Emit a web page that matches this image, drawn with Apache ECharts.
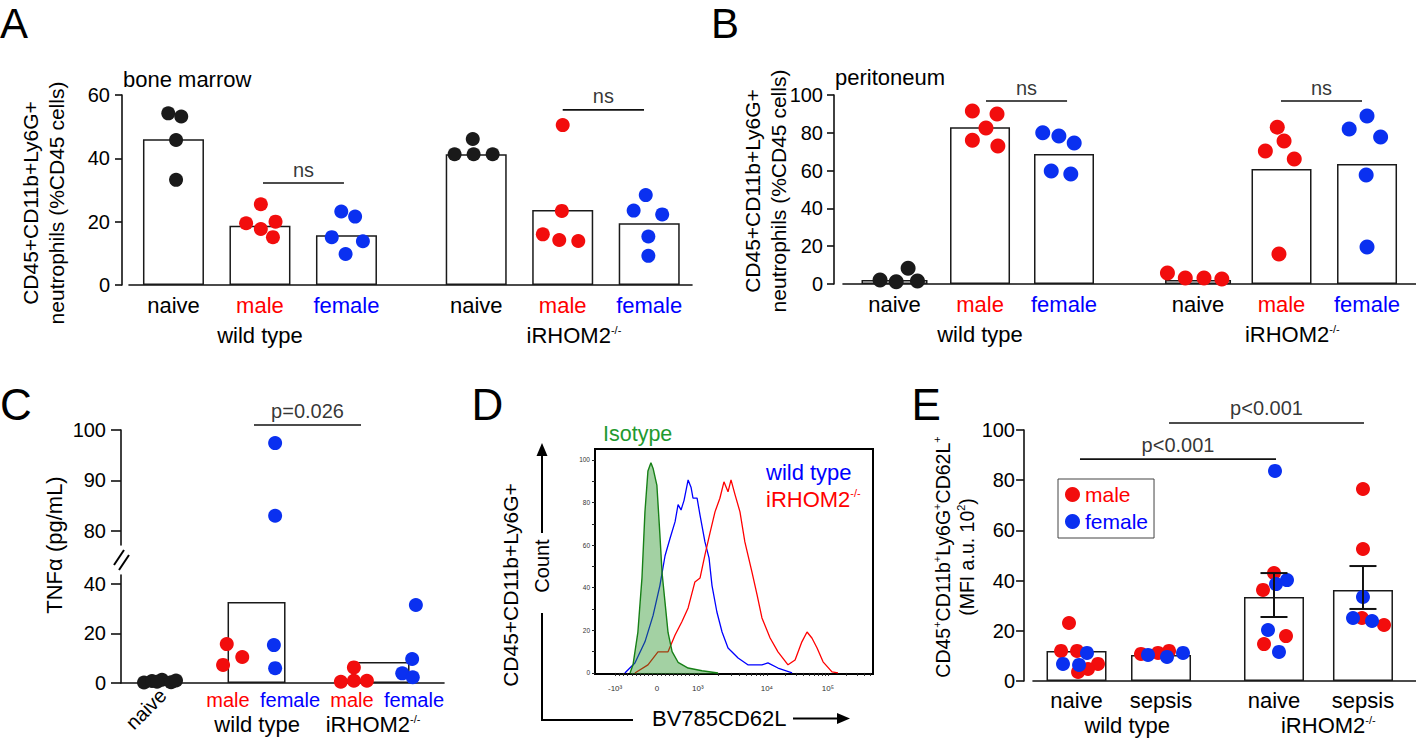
<!DOCTYPE html>
<html><head><meta charset="utf-8">
<script src="https://cdn.jsdelivr.net/npm/echarts@6/dist/echarts.min.js"></script>
<style>html,body{margin:0;padding:0;background:#fff}#c{width:1416px;height:742px}</style>
</head><body><div id="c"></div>
<script>
// ================= DATA =================
// Panel A – bone marrow (% CD45 cells)
const A_cats = ['naive', 'male', 'female', 'naive', 'male', 'female'];
const A_groups = ['wild type', 'iRHOM2'];
const A_barMeans = [46.0, 18.7, 15.7, 41.3, 23.7, 19.5];
const A_wtNaive = [54.2, 53.2, 45.8, 33.2];
const A_wtMale = [25.5, 19.5, 20.0, 17.7, 15.1];
const A_wtFemale = [23.2, 21.6, 15.1, 13.8, 9.8];
const A_koNaive = [41.3, 41.3, 41.3, 46.1];
const A_koMale = [50.5, 23.4, 16.0, 14.2, 13.9];
const A_koFemale = [28.4, 23.5, 22.3, 15.3, 9.2];
const A_yTicks = [0, 20, 40, 60];

// Panel B – peritoneum (% CD45 cells)
const B_cats = ['naive', 'male', 'female', 'naive', 'male', 'female'];
const B_groups = ['wild type', 'iRHOM2'];
const B_barMeans = [2.1, 83.0, 68.8, 2.1, 60.8, 63.5];
const B_wtNaive = [2.1, 1.2, 1.6, 8.3];
const B_wtMale = [91.5, 90.0, 82.5, 76.0, 73.0];
const B_wtFemale = [80.0, 78.3, 74.6, 59.8, 58.2];
const B_koNaive = [5.8, 3.2, 3.2, 2.6];
const B_koMale = [83.0, 75.7, 70.4, 66.1, 15.9];
const B_koFemale = [88.9, 82.0, 77.8, 57.7, 19.6];

// Panel C – TNFα (pg/mL)
const C_cats = ['male', 'female', 'male', 'female'];
const C_groups = ['wild type', 'iRHOM2'];
const C_barMeans = [32.7, 8.5];
const C_naive = [0.2, 0.8, 1.3, 0.3, 1.0, 0.5];
const C_wtMale = [15.7, 10.5, 7.3];
const C_wtFemale = [97.4, 83.0, 15.3, 6.0];
const C_koMale = [6.3, 0.5, 0.9, 0.9];
const C_koFemale = [31.5, 9.7, 3.9, 2.3];
const C_lowTicks = [0, 20, 40];
const C_highTicks = [80, 90, 100];

// Panel D – histogram (channel, % of max)
const D_isoX = [129, 140, 158, 173, 184, 195, 206, 214, 228, 239, 247, 258, 269, 284, 306, 343, 394, 453];
const D_isoY = [0, 3.8, 19.2, 44.6, 75.6, 94.8, 98.6, 96, 88, 65, 47, 33, 19, 10, 5, 2.3, 1, 0];
const D_wtX = [110, 147, 184, 214, 239, 258, 276, 295, 306, 317, 328, 343, 354, 361, 376, 387, 405, 420, 431, 449, 468, 490, 527, 563, 615, 637, 674, 726];
const D_wtY = [0, 4.7, 14.6, 27, 41, 55, 63, 71, 79, 76.5, 81, 90.6, 87, 82, 82, 74, 61.5, 54, 41, 28.6, 19.2, 11.7, 7, 3.8, 3.8, 4.7, 2.3, 0];
const D_koX = [147, 195, 232, 269, 295, 320, 343, 368, 387, 405, 424, 442, 460, 475, 490, 501, 516, 534, 552, 578, 597, 615, 645, 674, 711, 737, 762, 781, 799, 818, 840, 873, 895];
const D_koY = [0, 3.8, 9.9, 9.9, 17.8, 24, 30.5, 42.7, 44.6, 55.4, 66, 75.6, 82, 89.7, 85, 90.6, 83.6, 75.6, 61.5, 47.4, 36.6, 25.8, 16.4, 9.9, 3.8, 6.1, 14.6, 19.2, 16.4, 11.7, 5.2, 0.5, 0];
const D_xTickLabels = ['-10³', '0', '10³', '10⁴', '10⁵'];
const D_yTickLabels = [0, 20, 40, 60, 80, 100];

// Panel E – CD62L MFI (a.u. x10^2)
const E_cats = ['naive', 'sepsis', 'naive', 'sepsis'];
const E_groups = ['wild type', 'iRHOM2'];
const E_barMeans = [12.0, 10.4, 33.5, 36.3];
const E_errLow = [null, null, 25.5, 28.7];
const E_errHigh = [null, null, 43.0, 45.8];
const E_wtNaiveM = [23.1, 12.0, 12.0, 6.8, 4.8, 3.6];
const E_wtNaiveF = [11.2, 6.8, 6.4];
const E_wtSepsisM = [10.8, 11.2, 12.0];
const E_wtSepsisF = [10.4, 9.6, 11.2];
const E_koNaiveM = [43.0, 36.3, 17.9, 14.7];
const E_koNaiveF = [83.7, 38.6, 40.2, 20.3, 11.6];
const E_koSepsisM = [76.5, 52.6, 25.1, 22.3];
const E_koSepsisF = [33.5, 25.1, 23.9];

// ================= LAYOUT (slot positions, jitter, brackets) =================
const A_slots = [0, 1, 2, 3.5, 4.5, 5.5];
const A_groupPos = [1, 4.63];
const A_jit = [[-0.06, 0.09, 0.03, 0.03], [0.01, -0.16, 0.18, 0.01, 0.15], [-0.06, 0.1, -0.17, 0.19, -0.01],
               [-0.25, -0.03, 0.19, -0.04], [0.0, -0.01, -0.23, -0.04, 0.18], [-0.04, -0.18, 0.15, -0.01, -0.01]];
const A_brackets = [[1.035, 1.971, 32.2, 'ns'], [4.5, 5.44, 55.3, 'ns']];

const B_slots = [0, 1.006, 1.994, 3.571, 4.553, 5.559];
const B_groupPos = [1.006, 4.68];
const B_jit = [[-0.17, 0.02, 0.27, 0.16], [-0.09, 0.2, 0.07, -0.09, 0.21], [-0.25, -0.06, 0.12, -0.15, 0.08],
               [-0.36, -0.15, 0.07, 0.28], [-0.05, 0.03, -0.19, 0.15, -0.03], [0, -0.21, 0.16, -0.01, 0]];
const B_brackets = [[1.076, 2.03, 96.8, 'ns'], [4.547, 5.5, 96.8, 'ns']];

const C_slots = [0, 1, 2, 3];
const C_naiveSlot = -1.1;
const C_barSlots = [0.46, 2.46];
const C_groupPos = [0.47, 2.34];
const C_jit = [[-0.255, -0.126, 0.035, 0.181, 0.261, -0.045], [-0.02, 0.23, -0.08], [-0.24, -0.24, -0.26, -0.24],
               [0.03, -0.18, 0.03, 0.24], [0.03, -0.03, -0.19, -0.02]];
const C_bracket = [0.419, 2.145, 101.0, 'p=0.026'];

const D_xTickPos = [74, 228, 379, 633, 858];

const E_slots = [0, 1, 2.337, 3.39];
const E_groupPos = [0.6, 2.98];
const E_jit = [[-0.089, -0.183, 0.006, 0.254, 0.136, 0.018], [0.124, -0.16, 0.03],
               [-0.237, -0.036, 0.095], [-0.154, 0.071, 0.26],
               [0, -0.13, 0.142, -0.118], [0.012, 0.024, 0.154, -0.071, 0.059],
               [0, 0, -0.012, 0.249], [0, -0.118, 0.107]];
const E_brackets = [[0.041, 2.361, 88.4, 'p<0.001'], [1.095, 3.402, 102.8, 'p<0.001']];

// ================= STYLE =================
const FONT = '"Liberation Sans", Arial, Helvetica, sans-serif';
const RED = '#ff0000', BLUE = '#0000ff', GREEN = '#1f9a2f';
const DOT_RED = '#f20d0d', DOT_BLUE = '#0a30f0', DOT_BLACK = '#1a1a1a';
const AX = '#111';

function rich(size, lh) {
  return {
    k: { color: '#000', fontSize: size, fontFamily: FONT, lineHeight: lh },
    r: { color: RED, fontSize: size, fontFamily: FONT, lineHeight: lh },
    b: { color: BLUE, fontSize: size, fontFamily: FONT, lineHeight: lh },
    s: { color: '#000', fontSize: Math.round(size * 0.5), fontFamily: FONT, lineHeight: Math.round(size * 0.55), verticalAlign: 'top' }
  };
}
function colKey(name) { return name === 'male' ? 'r' : name === 'female' ? 'b' : 'k'; }
function catFmt(slots, names) {
  return function (v) {
    const i = slots.findIndex(s => Math.abs(s - v) < 1e-6);
    return i < 0 ? '' : '{' + colKey(names[i]) + '|' + names[i] + '}';
  };
}
function groupFmt(slots, names) {
  return function (v) {
    const i = slots.findIndex(s => Math.abs(s - v) < 1e-6);
    if (i < 0) return '';
    return names[i] === 'iRHOM2' ? '{k|iRHOM2}{s|-/-}' : '{k|' + names[i] + '}';
  };
}
function dots(slot, vals, jit) { return vals.map((v, i) => [slot + jit[i], v]); }

function yAx(grid, min, max, ticks, o) {
  return {
    gridIndex: grid, type: 'value', position: 'left', min: min, max: max, offset: o.offset || 0,
    axisLine: { show: true, onZero: false, lineStyle: { color: AX, width: 1.6 } },
    axisTick: { show: true, length: o.tick || 7, customValues: ticks, lineStyle: { color: AX, width: 1.6 } },
    axisLabel: { show: true, customValues: ticks, fontSize: 20, fontFamily: FONT, color: '#000', margin: o.margin || 12 },
    splitLine: { show: false }
  };
}
function xMain(grid, min, max, slots, names, margin, size) {
  return {
    gridIndex: grid, type: 'value', position: 'bottom', min: min, max: max,
    axisLine: { show: true, onZero: false, lineStyle: { color: AX, width: 1.6 } },
    axisTick: { show: false }, splitLine: { show: false },
    axisLabel: { show: true, customValues: slots, formatter: catFmt(slots, names), margin: margin, rich: rich(size, size) }
  };
}
function xGroup(grid, min, max, pos, names, margin) {
  return {
    gridIndex: grid, type: 'value', position: 'bottom', min: min, max: max,
    axisLine: { show: false }, axisTick: { show: false }, splitLine: { show: false },
    axisLabel: { show: true, customValues: pos, formatter: groupFmt(pos, names), margin: margin, rich: rich(22, 22) }
  };
}
function xHidden(grid, min, max) {
  return { gridIndex: grid, type: 'value', position: 'bottom', min: min, max: max, show: false, splitLine: { show: false } };
}
function bars(xi, yi, data, w) {
  return { type: 'bar', xAxisIndex: xi, yAxisIndex: yi, data: data, barWidth: w, silent: true, z: 2,
    itemStyle: { color: '#fff', borderColor: '#1a1a1a', borderWidth: 1.5 } };
}
function scat(name, xi, yi, data, color, size) {
  return { type: 'scatter', name: name, xAxisIndex: xi, yAxisIndex: yi, data: data, symbol: 'circle', symbolSize: size,
    itemStyle: { color: color, opacity: 1 }, silent: true, clip: false, z: 5 };
}
function bracket(xi, yi, b, dist) {
  return [
    { type: 'line', xAxisIndex: xi, yAxisIndex: yi, data: [[b[0], b[2]], [b[1], b[2]]], symbol: 'none', clip: false, silent: true, z: 6,
      lineStyle: { color: AX, width: 1.6 } },
    { type: 'scatter', xAxisIndex: xi, yAxisIndex: yi, data: [[(b[0] + b[1]) / 2, b[2]]], symbolSize: 1, clip: false, silent: true, z: 6,
      itemStyle: { color: 'rgba(0,0,0,0)' },
      label: { show: true, position: 'top', distance: dist, formatter: b[3], color: '#000', fontSize: 20, fontFamily: FONT } }
  ];
}

// axis ranges
const A_min = -0.514, A_max = A_min + 563 / 86.5;
const B_min = -0.606, B_max = B_min + 573 / 85;
const C_min = -1.726, C_max = C_min + 323 / 62;
const E_min = -0.515, E_max = E_min + 383 / 84.5;

// D minor ticks (biexponential style)
const D_minor = [];
for (let k = 1; k < 10; k++) { D_minor.push(228 - (228 - 74) * k / 10); D_minor.push(228 + (379 - 228) * k / 10); }
[[379, 633], [633, 858], [858, 1083]].forEach(([a, b]) => { for (let m = 2; m < 10; m++) { const p = a + (b - a) * Math.log10(m); if (p <= 1024) D_minor.push(p); } });
D_xTickPos.forEach(p => D_minor.push(p));

// ================= OPTION =================
const grid = [
  { left: 129, top: 95, width: 563, height: 190 },   // 0 A
  { left: 843, top: 95, width: 573, height: 189 },   // 1 B
  { left: 121, top: 430, width: 323, height: 115 },  // 2 C upper
  { left: 121, top: 575, width: 323, height: 108 },  // 3 C lower
  { left: 595, top: 449, width: 278, height: 225, show: true, borderColor: '#000', borderWidth: 2, backgroundColor: 'transparent' }, // 4 D
  { left: 1033, top: 430, width: 383, height: 251 }  // 5 E
];

const xAxis = [
  xMain(0, A_min, A_max, A_slots, A_cats, 9, 22),            // 0
  xGroup(0, A_min, A_max, A_groupPos, A_groups, 39),          // 1
  xMain(1, B_min, B_max, B_slots, B_cats, 9, 22),            // 2
  xGroup(1, B_min, B_max, B_groupPos, B_groups, 39),          // 3
  xHidden(1, B_min, B_max),                                   // 4 (naive bars)
  xHidden(2, C_min, C_max),                                   // 5 C upper
  xMain(3, C_min, C_max, C_slots, C_cats, 7, 20),            // 6 C lower
  xGroup(3, C_min, C_max, C_groupPos, C_groups, 30),          // 7
  { gridIndex: 3, type: 'value', position: 'bottom', min: C_min, max: C_max, axisLine: { show: false }, axisTick: { show: false }, splitLine: { show: false },
    axisLabel: { show: true, customValues: [C_naiveSlot + 0.05], formatter: () => 'naive', rotate: 45, margin: 9, fontSize: 20, fontFamily: FONT, color: '#000' } }, // 8
  { gridIndex: 4, type: 'value', position: 'bottom', min: 0, max: 1024, axisLine: { show: false }, splitLine: { show: false },
    axisTick: { show: true, customValues: D_minor, length: 3, lineStyle: { color: '#222', width: 1 } },
    axisLabel: { show: true, customValues: D_xTickPos, formatter: v => D_xTickLabels[D_xTickPos.findIndex(p => Math.abs(p - v) < 1e-6)] || '', fontSize: 8, fontFamily: FONT, color: '#333', margin: 10 } }, // 9
  xMain(5, E_min, E_max, E_slots, E_cats, 8, 22),            // 10
  xGroup(5, E_min, E_max, E_groupPos, E_groups, 33)           // 11
];

const yAxis = [
  yAx(0, 0, 60, A_yTicks, { offset: 7, margin: 12 }),
  yAx(1, 0, 100, [0, 20, 40, 60, 80, 100], { offset: 9, margin: 11 }),
  yAx(2, 77.2, 100, C_highTicks, { tick: 10, margin: 15 }),
  yAx(3, 0, 43.6, C_lowTicks, { tick: 10, margin: 15 }),
  { gridIndex: 4, type: 'value', position: 'left', min: -0.5, max: 105.1, splitLine: { show: false }, axisLine: { show: false },
    axisTick: { show: true, customValues: [0, 10, 20, 30, 40, 50, 60, 70, 80, 90, 100], length: 3, lineStyle: { color: '#222', width: 1 } },
    axisLabel: { show: true, customValues: D_yTickLabels, fontSize: 6.5, fontFamily: FONT, color: '#333', margin: 5 } },
  yAx(5, 0, 100, [0, 20, 40, 60, 80, 100], { offset: 9, margin: 9, tick: 8 })
];

const series = [];
// ---- A
series.push(bars(0, 0, A_slots.map((s, i) => [s, A_barMeans[i]]), 61));
series.push(scat('A naive', 0, 0, dots(A_slots[0], A_wtNaive, A_jit[0]).concat(dots(A_slots[3], A_koNaive, A_jit[3])), DOT_BLACK, 14));
series.push(scat('A male', 0, 0, dots(A_slots[1], A_wtMale, A_jit[1]).concat(dots(A_slots[4], A_koMale, A_jit[4])), DOT_RED, 14));
series.push(scat('A female', 0, 0, dots(A_slots[2], A_wtFemale, A_jit[2]).concat(dots(A_slots[5], A_koFemale, A_jit[5])), DOT_BLUE, 14));
A_brackets.forEach(b => series.push(...bracket(0, 0, b, 3)));
// ---- B
series.push(bars(2, 1, [1, 2, 4, 5].map(i => [B_slots[i], B_barMeans[i]]), 60));
series.push(bars(4, 1, [0, 3].map(i => [B_slots[i], B_barMeans[i]]), 66));
series.push(scat('B naive wt', 2, 1, dots(B_slots[0], B_wtNaive, B_jit[0]), DOT_BLACK, 15));
series.push(scat('B male', 2, 1, dots(B_slots[1], B_wtMale, B_jit[1]).concat(dots(B_slots[3], B_koNaive, B_jit[3]), dots(B_slots[4], B_koMale, B_jit[4])), DOT_RED, 15));
series.push(scat('B female', 2, 1, dots(B_slots[2], B_wtFemale, B_jit[2]).concat(dots(B_slots[5], B_koFemale, B_jit[5])), DOT_BLUE, 15));
B_brackets.forEach(b => series.push(...bracket(2, 1, b, 3)));
// ---- C
series.push(bars(6, 3, C_barSlots.map((s, i) => [s, C_barMeans[i]]), 58));
const C_red = dots(C_slots[0], C_wtMale, C_jit[1]).concat(dots(C_slots[2], C_koMale, C_jit[3]));
const C_blue = dots(C_slots[1], C_wtFemale, C_jit[2]).concat(dots(C_slots[3], C_koFemale, C_jit[4]));
series.push(scat('C naive', 6, 3, dots(C_naiveSlot, C_naive, C_jit[0]), DOT_BLACK, 14));
series.push(scat('C male', 6, 3, C_red, DOT_RED, 14));
series.push(scat('C female low', 6, 3, C_blue.filter(d => d[1] < 50), DOT_BLUE, 14));
series.push(scat('C female high', 5, 2, C_blue.filter(d => d[1] >= 50), DOT_BLUE, 14));
series.push(...bracket(5, 2, C_bracket, 3));
// ---- D
series.push({ type: 'line', xAxisIndex: 9, yAxisIndex: 4, data: D_wtX.map((x, i) => [x, D_wtY[i]]), symbol: 'none', silent: true, z: 3,
  lineStyle: { color: '#0000ff', width: 1.3 } });
series.push({ type: 'line', xAxisIndex: 9, yAxisIndex: 4, data: D_koX.map((x, i) => [x, D_koY[i]]), symbol: 'none', silent: true, z: 3,
  lineStyle: { color: '#ff0000', width: 1.3 } });
series.push({ type: 'line', xAxisIndex: 9, yAxisIndex: 4, data: D_isoX.map((x, i) => [x, D_isoY[i]]), symbol: 'none', silent: true, z: 4,
  lineStyle: { color: '#178017', width: 1.4 }, areaStyle: { color: 'rgba(35,145,35,0.6)', origin: 'start' } });
// ---- E
series.push(bars(10, 5, E_slots.map((s, i) => [s, E_barMeans[i]]), 60));
const E_redData = dots(E_slots[0], E_wtNaiveM, E_jit[0]).concat(dots(E_slots[1], E_wtSepsisM, E_jit[2]), dots(E_slots[2], E_koNaiveM, E_jit[4]), dots(E_slots[3], E_koSepsisM, E_jit[6]));
const E_blueData = dots(E_slots[0], E_wtNaiveF, E_jit[1]).concat(dots(E_slots[1], E_wtSepsisF, E_jit[3]), dots(E_slots[2], E_koNaiveF, E_jit[5]), dots(E_slots[3], E_koSepsisF, E_jit[7]));
series.push(scat('male', 10, 5, E_redData, DOT_RED, 14));
series.push(scat('female', 10, 5, E_blueData, DOT_BLUE, 14));
series.push({ type: 'custom', xAxisIndex: 10, yAxisIndex: 5, silent: true, z: 6, clip: false,
  data: E_slots.map((s, i) => [s, E_errLow[i], E_errHigh[i]]).filter(d => d[1] != null),
  encode: { x: 0, y: [1, 2] },
  renderItem: function (params, api) {
    const x = api.value(0), lo = api.coord([x, api.value(1)]), hi = api.coord([x, api.value(2)]);
    const c = 13.5, st = { stroke: '#111', lineWidth: 2 };
    return { type: 'group', children: [
      { type: 'line', shape: { x1: lo[0], y1: lo[1], x2: hi[0], y2: hi[1] }, style: st },
      { type: 'line', shape: { x1: lo[0] - c, y1: lo[1], x2: lo[0] + c, y2: lo[1] }, style: st },
      { type: 'line', shape: { x1: hi[0] - c, y1: hi[1], x2: hi[0] + c, y2: hi[1] }, style: st }
    ] };
  } });
E_brackets.forEach(b => series.push(...bracket(10, 5, b, 4)));

// ================= GRAPHIC TEXT / DECORATION =================
function txt(x, y, text, size, color, opt) {
  opt = opt || {};
  return { type: 'text', x: x, y: y, rotation: opt.rot || 0, silent: true, z: 10,
    style: { text: text, fill: color || '#000', fontSize: size, fontFamily: FONT,
      align: opt.align || 'left', textAlign: opt.align || 'left', verticalAlign: 'middle', textVerticalAlign: 'middle',
      lineHeight: opt.lh || size, rich: opt.rich } };
}
const R90 = Math.PI / 2;
const seg = (x1, y1, x2, y2, w) => ({ type: 'line', silent: true, z: 10, shape: { x1, y1, x2, y2 }, style: { stroke: '#000', lineWidth: w || 2 } });
const tri = (pts) => ({ type: 'polygon', silent: true, z: 10, shape: { points: pts }, style: { fill: '#000' } });

const E_titleRich = {
  a: { fontSize: 19.5, fontFamily: FONT, color: '#000', lineHeight: 24 },
  s: { fontSize: 11, fontFamily: FONT, color: '#000', lineHeight: 11, verticalAlign: 'top' }
};
const D_koRich = {
  a: { fontSize: 22, fontFamily: FONT, color: RED, lineHeight: 24 },
  s: { fontSize: 11, fontFamily: FONT, color: RED, lineHeight: 12, verticalAlign: 'top' }
};

const graphic = [
  txt(0, 23.6, 'A', 42), txt(711, 23.6, 'B', 42), txt(0, 404, 'C', 44), txt(471.5, 404.8, 'D', 44), txt(911.5, 404.8, 'E', 44),
  txt(123, 79.4, 'bone marrow', 22), txt(835, 77.4, 'peritoneum', 22),
  txt(43.7, 203, 'CD45+CD11b+Ly6G+\nneutrophils (%CD45 cells)', 21, '#000', { rot: R90, align: 'center', lh: 26 }),
  txt(765.7, 191, 'CD45+CD11b+Ly6G+\nneutrophils (%CD45 cells)', 21, '#000', { rot: R90, align: 'center', lh: 26 }),
  txt(54.4, 545, 'TNFα (pg/mL)', 22, '#000', { rot: R90, align: 'center' }),
  txt(955.2, 557, '{a|CD45}{s|+}{a|CD11b}{s|+}{a|Ly6G}{s|+}{a|CD62L}{s|+}\n{a|(MFI a.u. 10}{s|2}{a|)}', 19.5, '#000', { rot: R90, align: 'center', lh: 24, rich: E_titleRich }),
  txt(510.7, 585, 'CD45+CD11b+Ly6G+', 21, '#000', { rot: R90, align: 'center' }),
  txt(542.1, 566, 'Count', 20, '#000', { rot: R90, align: 'center' }),
  txt(603, 434.3, 'Isotype', 21.5, GREEN),
  txt(766, 472.4, 'wild type', 22, BLUE),
  txt(766, 499.4, '{a|iRHOM2}{s|-/-}', 22, RED, { rich: D_koRich, lh: 24 }),
  txt(652, 718.4, 'BV785CD62L', 22),
  // D axis arrows
  seg(542, 613, 542, 720), seg(541, 720, 633, 720),
  seg(542, 533, 542, 453), tri([[542, 443], [536.5, 456], [547.5, 456]]),
  seg(793, 718.5, 840, 718.5), tri([[850, 718.5], [837, 713], [837, 724]]),
  // C axis break
  seg(114, 565, 124, 550, 2), seg(119, 570, 129, 555, 2)
];

const option = {
  animation: false,
  backgroundColor: '#ffffff',
  textStyle: { fontFamily: FONT },
  grid: grid, xAxis: xAxis, yAxis: yAxis, series: series, graphic: graphic,
  legend: {
    show: true, orient: 'vertical', left: 1058, top: 479, selectedMode: false,
    padding: [5, 6, 6, 7], itemGap: 6, itemWidth: 15, itemHeight: 15,
    borderColor: '#444', borderWidth: 1, backgroundColor: '#fff',
    textStyle: { fontSize: 21, fontFamily: FONT },
    data: [
      { name: 'male', icon: 'circle', itemStyle: { color: DOT_RED }, textStyle: { color: RED, fontSize: 21 } },
      { name: 'female', icon: 'circle', itemStyle: { color: DOT_BLUE }, textStyle: { color: BLUE, fontSize: 21 } }
    ]
  }
};

const chart = echarts.init(document.getElementById('c'), null, { renderer: 'svg', width: 1416, height: 742 });
chart.setOption(option);
</script>
</body></html>
